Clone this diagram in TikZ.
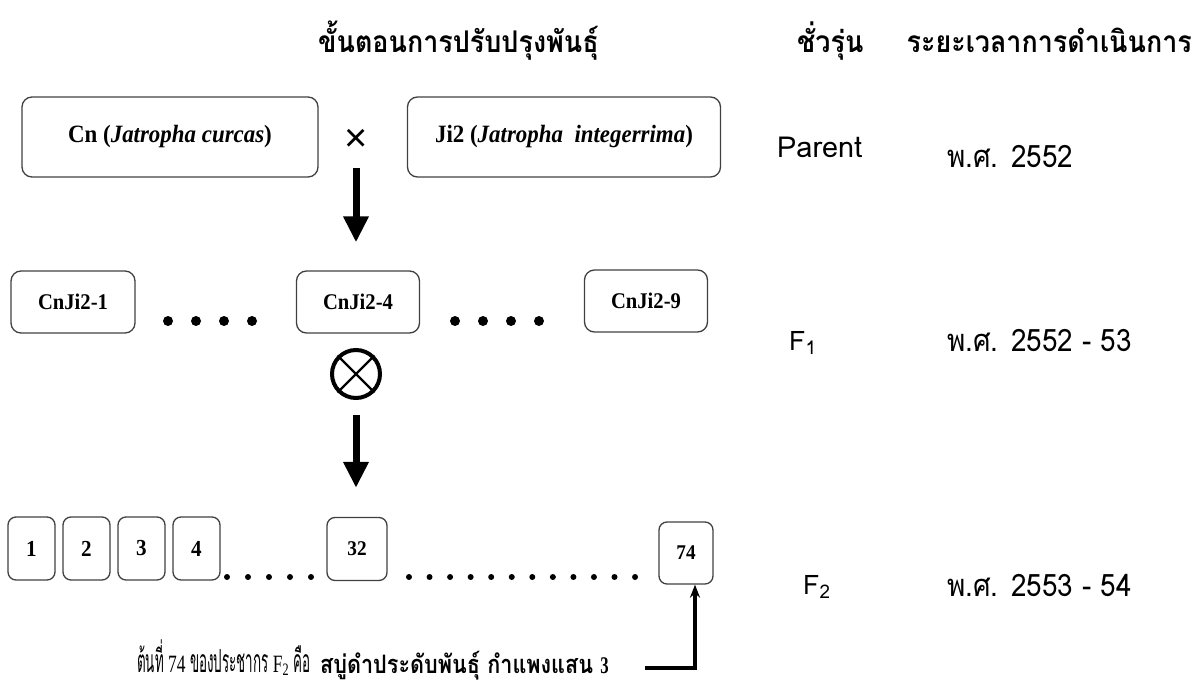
\documentclass[tikz,border=0pt]{standalone}
\usepackage{fontspec}
\setmainfont{Liberation Serif}
\newfontfamily\thaifont[Script=Thai]{Loma}
\newfontfamily\thaihead[Script=Thai,FakeStretch=0.9]{Loma}
\newfontfamily\thaimid[Script=Thai,FakeStretch=0.85]{Loma}
\newfontfamily\thainarrow[Script=Thai,FakeStretch=0.42]{Loma}
\newfontfamily\serifnarrow[FakeStretch=0.7]{Liberation Serif}
\newfontfamily\boxfont[FakeStretch=0.92]{Liberation Serif}
\newfontfamily\crossfont{Liberation Sans}
\usetikzlibrary{arrows.meta}

\begin{document}
\begin{tikzpicture}[x=1bp,y=-1bp,
        box/.style={draw=black!75,line width=1.3bp,rounded corners=10bp,inner sep=0pt,font=\boxfont\bfseries\fontsize{25}{28}\selectfont},
        midbox/.style={box,minimum width=123bp,minimum height=62bp,font=\boxfont\bfseries\fontsize{22.5}{25}\selectfont},
        numbox/.style={box,rounded corners=8bp,minimum width=47bp,minimum height=63bp,font=\boxfont\bfseries\fontsize{23}{25}\selectfont},
        hdr/.style={inner sep=0pt,font=\thaihead\bfseries\fontsize{30}{34}\selectfont},
        gen/.style={inner sep=0pt,font=\thaifont\fontsize{27}{30}\selectfont},
        year/.style={inner sep=0pt,font=\thaihead\fontsize{31}{34}\selectfont},
        bigarrow/.style={line width=7bp,-{Triangle[length=26bp,width=24bp]}},
        uparrow/.style={line width=4bp,-{Stealth[length=13bp,width=10bp]}}]
    \useasboundingbox (0,0) rectangle (1198,690);

    % column headings
    \node[hdr,anchor=base west] (steps) at (318,53) {ขั้นตอนการปรับปรุงพันธุ์};
    \node[hdr,anchor=base west] (gentitle) at (797,53) {ชั่วรุ่น};
    \node[hdr,anchor=base east] (period) at (1192,53) {ระยะเวลาการดำเนินการ};

    % parents
    \node[box,minimum width=296bp,minimum height=80bp] (cn) at (170,137) {Cn (\textit{Jatropha curcas})};
    \node[box,minimum width=313bp,minimum height=80bp] (ji) at (564,137) {Ji2 (\textit{Jatropha\ \ integerrima})};
    \node[inner sep=0pt,font=\crossfont\fontsize{40}{40}\selectfont] (cross) at (356,140) {×};
    \node[gen,anchor=base west,font=\thaifont\fontsize{29}{32}\selectfont] (parent) at (777,158) {Parent};
    \node[year,anchor=base west] (y1) at (947,168) {พ.ศ. 2552};

    % F1
    \node[midbox,minimum width=124bp] (c1) at (73,302) {CnJi2-1};
    \node[midbox] (c4) at (358,302) {CnJi2-4};
    \node[midbox] (c9) at (646,301) {CnJi2-9};
    \foreach \d in {0,...,3} {
        \fill (168+28*\d,321) circle[radius=5bp];
        \fill (455+28*\d,321) circle[radius=5bp];
    }
    \node[circle,draw,line width=4bp,minimum size=48bp,inner sep=0pt] (self) at (356,374) {};
    \draw[line width=2.2bp] (self.north east) -- (self.south west) (self.north west) -- (self.south east);
    \node[gen,anchor=base west] (f1) at (789,350) {F\textsubscript{1}};
    \node[year,anchor=base west] (y2) at (947,351) {พ.ศ. 2552 - 53};

    \draw[bigarrow,shorten <=28bp,shorten >=28bp] (cross.center) -- (cross |- c4.north);

    % F2
    \foreach \n [count=\i from 0] in {1,2,3,4}
        \node[numbox] (s\n) at (31.5+55*\i,548.5) {\n};
    \node[numbox,minimum width=60bp,font=\boxfont\bfseries\fontsize{21}{24}\selectfont] (s32) at (357,549) {32};
    \node[numbox,minimum width=54bp,minimum height=62bp,font=\boxfont\bfseries\fontsize{21}{24}\selectfont] (s74) at (686,553) {74};
    \foreach \d in {0,...,4}
        \fill (227+21*\d,577) circle[radius=3bp];
    \foreach \d in {0,...,11}
        \fill (409+20.55*\d,577) circle[radius=3bp];
    \node[gen,anchor=base west] (f2) at (803,594) {F\textsubscript{2}};
    \node[year,anchor=base west] (y3) at (947,596) {พ.ศ. 2553 - 54};

    \draw[bigarrow,shorten <=15bp,shorten >=29bp] (self.south) -- (self.south |- s32.north);

    % selected plant
    \node[anchor=base west,inner sep=0pt,font=\serifnarrow\fontsize{25}{30}\selectfont] (note) at (137,672)
        {{\thainarrow\fontsize{32}{36}\selectfont ต้นที่} 74 {\thainarrow\fontsize{32}{36}\selectfont ของประชากร} F\textsubscript{2} {\thainarrow\fontsize{32}{36}\selectfont คือ}};
    \node[anchor=base west,inner sep=0pt,font=\thaimid\bfseries\fontsize{25.5}{30}\selectfont] (plant) at (320,673)
        {สบู่ดำประดับพันธุ์ กำแพงแสน {\serifnarrow\fontsize{24}{28}\selectfont 3}};
    \coordinate (tail) at (645,668);
    \coordinate (bend) at (695,668);
    \draw[uparrow] (tail) -- (bend) -- (bend |- s74.south);
\end{tikzpicture}
\end{document}
